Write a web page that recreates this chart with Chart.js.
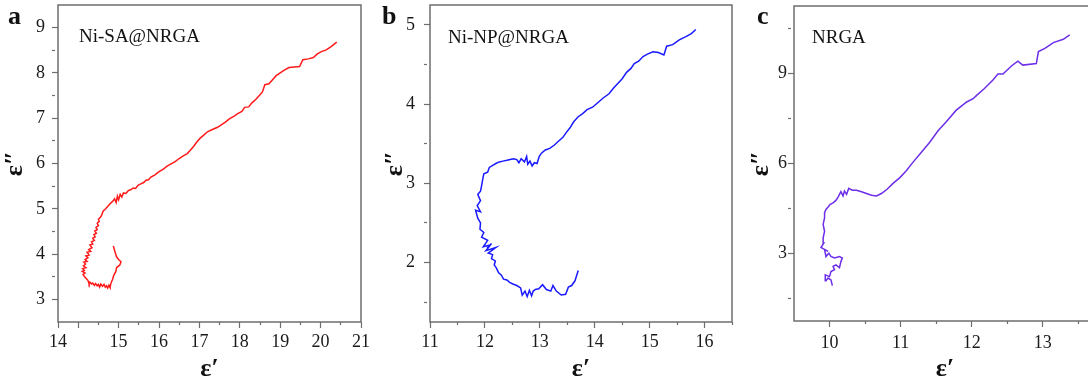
<!DOCTYPE html>
<html>
<head>
<meta charset="utf-8">
<title>Cole-Cole plots</title>
<script src="https://cdn.jsdelivr.net/npm/chart.js@4/dist/chart.umd.min.js"></script>
<style>
  html, body { margin: 0; padding: 0; background: #fff; }
  body { width: 1088px; height: 385px; overflow: hidden; position: relative; }
  canvas { position: absolute; top: 0; }
  .tag { position: absolute; font-family: "Liberation Serif", "Times New Roman", serif; color: #111; line-height: 1; white-space: nowrap; }
  .letter { font-size: 26px; font-weight: bold; }
  .name { font-size: 19px; }
</style>
</head>
<body>
<canvas id="chartA" width="370" height="385" style="left:0px"></canvas>
<canvas id="chartB" width="370" height="385" style="left:370px"></canvas>
<canvas id="chartC" width="380" height="385" style="left:730px"></canvas>

<div class="tag letter" style="left:8px;top:3px">a</div>
<div class="tag letter" style="left:382px;top:3px">b</div>
<div class="tag letter" style="left:757px;top:3px">c</div>
<div class="tag name" style="left:79px;top:26px">Ni-SA@NRGA</div>
<div class="tag name" style="left:448px;top:27px">Ni-NP@NRGA</div>
<div class="tag name" style="left:812px;top:27px">NRGA</div>

<script>
// Cole-Cole semicircles (ε'' vs ε') for three aerogels.
// Values.

const SERIF = '"Liberation Serif", "Times New Roman", serif';
const FRAME = "#6e6e6e";

// ---------- a: Ni-SA@NRGA ----------
const aEpsReal = [
  14.87, 14.91, 14.95, 15.01, 15.06, 15.03, 14.95, 14.93, 14.88, 14.85,
  14.82, 14.80, 14.79, 14.76, 14.73, 14.70, 14.67, 14.64, 14.60, 14.56,
  14.53, 14.50, 14.47, 14.43, 14.40, 14.36, 14.33, 14.29, 14.27, 14.24,
  14.20, 14.16, 14.12, 14.17, 14.10, 14.15, 14.11, 14.19, 14.13, 14.18,
  14.14, 14.22, 14.17, 14.24, 14.19, 14.27, 14.22, 14.31, 14.26, 14.34,
  14.29, 14.36, 14.33, 14.40, 14.36, 14.42, 14.39, 14.45, 14.41, 14.47,
  14.44, 14.50, 14.47, 14.52, 14.50, 14.55, 14.58, 14.62, 14.68, 14.74,
  14.80, 14.86, 14.90, 14.94, 14.97, 15.00, 15.04, 15.08, 15.12, 15.18,
  15.24, 15.30, 15.36, 15.42, 15.48, 15.55, 15.62, 15.68, 15.74, 15.80,
  15.90, 16.00, 16.10, 16.20, 16.30, 16.40, 16.50, 16.60, 16.70, 16.78,
  16.86, 16.94, 17.02, 17.10, 17.20, 17.32, 17.45, 17.55, 17.65, 17.75,
  17.85, 17.95, 18.05, 18.12, 18.22, 18.30, 18.40, 18.50, 18.56, 18.62,
  18.72, 18.80, 18.90, 19.00, 19.10, 19.22, 19.35, 19.48, 19.56, 19.70,
  19.82, 19.92, 20.02, 20.14, 20.26, 20.40
];
const aEpsImag = [
  4.18, 4.05, 3.94, 3.87, 3.83, 3.76, 3.70, 3.61, 3.53, 3.44,
  3.38, 3.32, 3.26, 3.31, 3.25, 3.30, 3.27, 3.33, 3.29, 3.34,
  3.27, 3.33, 3.30, 3.35, 3.31, 3.36, 3.34, 3.38, 3.34, 3.42,
  3.46, 3.50, 3.55, 3.58, 3.62, 3.64, 3.68, 3.70, 3.74, 3.78,
  3.82, 3.84, 3.88, 3.92, 3.96, 3.98, 4.04, 4.06, 4.10, 4.14,
  4.20, 4.22, 4.27, 4.30, 4.35, 4.38, 4.43, 4.46, 4.51, 4.54,
  4.59, 4.63, 4.68, 4.72, 4.77, 4.81, 4.86, 4.95, 5.00, 5.06,
  5.12, 5.17, 5.22, 5.14, 5.28, 5.20, 5.32, 5.26, 5.35, 5.34,
  5.40, 5.42, 5.46, 5.45, 5.52, 5.55, 5.58, 5.63, 5.64, 5.70,
  5.75, 5.82, 5.87, 5.94, 5.99, 6.04, 6.11, 6.17, 6.22, 6.30,
  6.38, 6.48, 6.56, 6.62, 6.70, 6.75, 6.80, 6.86, 6.92, 6.99,
  7.04, 7.10, 7.15, 7.24, 7.25, 7.34, 7.42, 7.52, 7.58, 7.74,
  7.76, 7.84, 7.94, 8.00, 8.06, 8.12, 8.13, 8.14, 8.29, 8.31,
  8.34, 8.42, 8.47, 8.51, 8.58, 8.68
];
const aXTickAt = [13.5, 14, 14.5, 15, 15.5, 16, 16.5, 17, 17.5, 18, 18.5, 19, 19.5, 20, 20.5, 21];
const aXTickText = ["14", "", "", "15", "", "16", "", "17", "", "18", "", "19", "", "20", "", "21"];
const aYTickAt = [3, 3.5, 4, 4.5, 5, 5.5, 6, 6.5, 7, 7.5, 8, 8.5, 9];
const aYTickText = ["3", "", "4", "", "5", "", "6", "", "7", "", "8", "", "9"];

// ---------- b: Ni-NP@NRGA ----------
const bEpsReal = [
  13.70, 13.64, 13.58, 13.52, 13.47, 13.39, 13.30, 13.24, 13.20, 13.12,
  13.05, 12.98, 12.92, 12.88, 12.85, 12.81, 12.77, 12.73, 12.68, 12.65,
  12.58, 12.51, 12.45, 12.40, 12.34, 12.30, 12.25, 12.21, 12.17, 12.19,
  12.12, 12.14, 12.06, 12.20, 12.02, 12.12, 12.04, 12.09, 11.97, 12.05,
  11.94, 11.98, 11.91, 11.92, 11.87, 11.83, 11.92, 11.86, 11.92, 11.87,
  11.92, 11.94, 11.96, 11.98, 12.05, 12.08, 12.15, 12.20, 12.26, 12.33,
  12.40, 12.46, 12.52, 12.58, 12.62, 12.66, 12.72, 12.76, 12.78, 12.82,
  12.86, 12.90, 12.95, 12.99, 13.03, 13.10, 13.18, 13.26, 13.34, 13.42,
  13.48, 13.55, 13.62, 13.70, 13.78, 13.86, 13.96, 14.06, 14.16, 14.26,
  14.34, 14.42, 14.50, 14.58, 14.66, 14.72, 14.80, 14.88, 14.96, 15.06,
  15.16, 15.26, 15.31, 15.42, 15.54, 15.66, 15.76, 15.84
];
const bEpsImag = [
  1.90, 1.77, 1.71, 1.69, 1.60, 1.59, 1.64, 1.71, 1.64, 1.66,
  1.72, 1.67, 1.66, 1.64, 1.58, 1.65, 1.57, 1.64, 1.59, 1.68,
  1.71, 1.73, 1.75, 1.78, 1.79, 1.84, 1.87, 1.93, 1.97, 2.02,
  2.05, 2.10, 2.12, 2.19, 2.15, 2.24, 2.18, 2.22, 2.20, 2.28,
  2.32, 2.38, 2.42, 2.50, 2.56, 2.66, 2.64, 2.72, 2.78, 2.86,
  2.90, 2.97, 3.05, 3.12, 3.14, 3.20, 3.23, 3.25, 3.27, 3.28,
  3.29, 3.30, 3.31, 3.30, 3.26, 3.31, 3.27, 3.34, 3.24, 3.28,
  3.22, 3.26, 3.25, 3.34, 3.38, 3.42, 3.44, 3.48, 3.53, 3.58,
  3.64, 3.70, 3.78, 3.84, 3.88, 3.93, 3.96, 4.02, 4.08, 4.13,
  4.20, 4.26, 4.32, 4.40, 4.45, 4.51, 4.54, 4.60, 4.63, 4.66,
  4.65, 4.62, 4.73, 4.75, 4.81, 4.85, 4.89, 4.94
];
const bXTickAt = [11, 11.5, 12, 12.5, 13, 13.5, 14, 14.5, 15, 15.5, 16, 16.5];
const bXTickText = ["11", "", "12", "", "13", "", "14", "", "15", "", "16", ""];
const bYTickAt = [1.5, 2, 2.5, 3, 3.5, 4, 4.5, 5];
const bYTickText = ["", "2", "", "3", "", "4", "", "5"];

// ---------- c: NRGA ----------
const cEpsReal = [
  10.04, 10.02, 9.98, 9.95, 9.94, 10.00, 10.02, 10.07, 10.05, 10.09,
  10.14, 10.16, 10.18, 10.14, 10.07, 10.02, 9.99, 9.95, 9.93, 9.98,
  9.91, 9.88, 9.92, 9.91, 9.93, 9.91, 9.93, 9.93, 9.95, 9.98,
  10.01, 10.05, 10.09, 10.12, 10.14, 10.16, 10.19, 10.21, 10.24, 10.27,
  10.32, 10.38, 10.45, 10.52, 10.59, 10.66, 10.73, 10.81, 10.89, 10.99,
  11.08, 11.17, 11.29, 11.41, 11.53, 11.64, 11.78, 11.93, 12.02, 12.07,
  12.18, 12.30, 12.37, 12.44, 12.56, 12.65, 12.72, 12.91, 12.94, 13.03,
  13.15, 13.29, 13.38
];
const cEpsImag = [
  1.93, 2.12, 2.18, 2.09, 2.29, 2.23, 2.40, 2.46, 2.57, 2.62,
  2.53, 2.73, 2.85, 2.90, 2.85, 2.90, 3.01, 2.90, 3.13, 3.07,
  3.16, 3.20, 3.35, 3.52, 3.74, 3.97, 4.19, 4.36, 4.47, 4.55,
  4.64, 4.69, 4.77, 4.88, 4.97, 5.06, 4.92, 5.08, 4.97, 5.17,
  5.11, 5.11, 5.06, 5.00, 4.94, 4.92, 5.00, 5.14, 5.33, 5.53,
  5.76, 6.03, 6.37, 6.71, 7.10, 7.38, 7.77, 8.05, 8.16, 8.27,
  8.50, 8.78, 8.98, 8.98, 9.25, 9.41, 9.28, 9.33, 9.73, 9.84,
  10.03, 10.14, 10.29
];
const cXTickAt = [10, 10.5, 11, 11.5, 12, 12.5, 13, 13.5];
const cXTickText = ["10", "", "11", "", "12", "", "13", ""];
const cYTickAt = [1.5, 3, 4.5, 6, 7.5, 9, 10.5];
const cYTickText = ["", "3", "", "6", "", "9", ""];

// closed grey box around each plot area
const framePlugin = {
  id: "frame",
  afterDraw(chart) {
    const { ctx, chartArea: a } = chart;
    ctx.save();
    ctx.strokeStyle = FRAME;
    ctx.lineWidth = 1.5;
    ctx.strokeRect(a.left, a.top, a.right - a.left, a.bottom - a.top);
    ctx.restore();
  },
};

function axisOptions(o) {
  const isMajor = (i) => o.tickText[i] !== "" || Number.isInteger(o.tickAt[i]);
  return {
    type: "linear",
    min: o.min,
    max: o.max,
    afterBuildTicks: (s) => {
      s.ticks = o.tickAt.map((v) => ({ value: v }));
    },
    afterFit: (s) => {
      // fixed box sizes so the plot areas land where they are in the figure
      if (o.horizontal) {
        s.height = o.size;
        s.paddingLeft = 0;
        s.paddingRight = 0;
      } else {
        s.width = o.size;
        s.paddingTop = 0;
        s.paddingBottom = 0;
      }
    },
    ticks: {
      autoSkip: false,
      maxRotation: 0,
      padding: o.tickPad,
      color: "#1a1a1a",
      font: { family: SERIF, size: 18 },
      callback: (v, i) => o.tickText[i],
    },
    grid: {
      drawOnChartArea: false,
      drawTicks: true,
      tickLength: 6,
      tickColor: FRAME,
      tickWidth: 1.2,
      // minor ticks: only the first 3px of the mark is drawn
      tickBorderDash: (ctx) => (isMajor(ctx.index) ? [] : [3, 20]),
    },
    border: { display: false },
    title: {
      display: true,
      text: o.title,
      color: "#111",
      font: { family: SERIF, size: 26, weight: "bold" },
      padding: { top: o.titlePad, bottom: 0 },
    },
  };
}

function makePanel(p) {
  const points = p.re.map((x, i) => ({ x: x, y: p.im[i] }));
  return new Chart(document.getElementById(p.id), {
    type: "scatter",
    data: {
      datasets: [
        {
          data: points,
          showLine: true,
          borderColor: p.color,
          borderWidth: 1.5,
          pointRadius: 0,
          tension: 0,
        },
      ],
    },
    options: {
      responsive: false,
      animation: false,
      events: [],
      layout: { padding: { top: p.padTop, right: p.padRight, left: 0, bottom: 0 } },
      plugins: { legend: { display: false }, tooltip: { enabled: false } },
      scales: {
        x: axisOptions({
          horizontal: true, min: p.xMin, max: p.xMax, tickAt: p.xTickAt, tickText: p.xTickText,
          size: p.xSize, tickPad: p.xTickPad, titlePad: 0, title: "ε\u2032",
        }),
        y: axisOptions({
          horizontal: false, min: p.yMin, max: p.yMax, tickAt: p.yTickAt, tickText: p.yTickText,
          size: p.ySize, tickPad: p.yTickPad, titlePad: p.yTitlePad, title: "ε\u2033",
        }),
      },
    },
    plugins: [framePlugin],
  });
}

makePanel({
  id: "chartA", re: aEpsReal, im: aEpsImag, color: "#ff1a1a",
  xMin: 13.5, xMax: 21, xTickAt: aXTickAt, xTickText: aXTickText,
  yMin: 2.5, yMax: 9.5, yTickAt: aYTickAt, yTickText: aYTickText,
  padTop: 5, padRight: 9, xSize: 63, ySize: 58, xTickPad: 3, yTickPad: 7, yTitlePad: 0,
});

makePanel({
  id: "chartB", re: bEpsReal, im: bEpsImag, color: "#1a1aff",
  xMin: 11, xMax: 16.5, xTickAt: bXTickAt, xTickText: bXTickText,
  yMin: 1.25, yMax: 5.25, yTickAt: bYTickAt, yTickText: bYTickText,
  padTop: 5, padRight: 8, xSize: 63, ySize: 60, xTickPad: 3, yTickPad: 9, yTitlePad: 10,
});

makePanel({
  id: "chartC", re: cEpsReal, im: cEpsImag, color: "#6c2ee8",
  xMin: 9.5, xMax: 13.75, xTickAt: cXTickAt, xTickText: cXTickText,
  yMin: 0.75, yMax: 11.25, yTickAt: cYTickAt, yTickText: cYTickText,
  padTop: 6, padRight: 14, xSize: 64, ySize: 64, xTickPad: 5, yTickPad: 1, yTitlePad: 16,
});
</script>
</body>
</html>
